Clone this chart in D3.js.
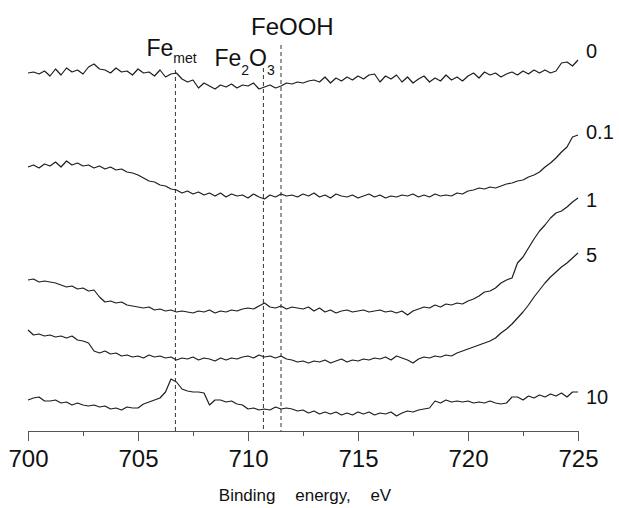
<!DOCTYPE html>
<html>
<head>
<meta charset="utf-8">
<script src="https://cdn.jsdelivr.net/npm/d3@7/dist/d3.min.js"></script>
<style>
  body { margin: 0; background: #fff; }
  svg { display: block; font-family: "Liberation Sans", Arial, Helvetica, sans-serif; }
</style>
</head>
<body>
<div id="chart"></div>
<script>
// binding energy grid, 0.25 eV step
const energies = d3.range(101).map(i => 700 + i * 0.25);

const seriesLabels = ["0", "0.1", "1", "5", "10"];

// intensity (arb. units, stacked) for each spectrum
const int0 = [
    35.8, 35.9, 35.7, 36.0, 35.5, 36.2, 35.6, 36.3, 35.9, 36.1,
    35.7, 36.4, 36.7, 36.2, 36.1, 35.8, 36.3, 35.9, 36.0, 35.6,
    36.2, 35.8, 35.9, 35.5, 36.1, 35.4, 35.7, 35.8, 35.2, 34.9,
    35.1, 34.3, 34.8, 34.5, 34.2, 34.6, 34.4, 34.7, 34.3, 34.6,
    34.5, 34.8, 34.2, 34.4, 34.6, 34.3, 34.5, 34.8, 34.7, 34.9,
    34.8, 35.0, 35.1, 34.9, 35.4, 34.8, 35.3, 35.0, 35.4, 35.1,
    35.5, 35.2, 35.6, 35.7, 34.9, 35.5, 35.2, 35.6, 34.9, 35.4,
    34.8, 35.2, 35.5, 34.9, 35.3, 35.0, 35.6, 35.1, 35.4, 35.0,
    35.5, 35.8, 35.3, 35.9, 35.6, 35.8, 35.4, 35.7, 35.9, 35.6,
    36.0, 35.7, 36.1, 35.8, 36.1, 35.8, 36.0, 36.8, 36.9, 36.5,
    37.1
];
const int01 = [
    26.4, 26.6, 26.3, 26.7, 26.5, 26.9, 26.4, 27.0, 26.6, 26.8,
    26.5, 26.6, 26.3, 26.5, 26.2, 26.4, 26.1, 26.2, 25.9, 25.8,
    25.6, 25.3, 25.0, 24.9, 24.6, 24.5, 24.2, 24.1, 23.8, 24.0,
    23.7, 23.9, 23.6, 23.8, 23.5, 23.8, 23.4, 23.7, 23.5, 23.6,
    23.3, 23.7, 23.4, 23.2, 23.6, 23.4, 23.7, 23.5, 23.6, 23.4,
    23.7, 23.5, 23.8, 23.4, 23.6, 23.3, 23.7, 23.5, 23.4, 23.6,
    23.3, 23.5, 23.7, 23.4, 23.6, 23.3, 23.5, 23.4, 23.6, 23.5,
    23.7, 23.4, 23.6, 23.4, 23.7, 23.5, 23.6, 23.5, 23.8, 23.7,
    24.0, 24.1, 24.3, 24.2, 24.4, 24.3, 24.5, 24.7, 24.8, 25.0,
    25.1, 25.4, 25.6, 25.9, 26.4, 26.8, 27.3, 27.9, 28.4, 29.4,
    29.6
];
const int1 = [
    15.1, 15.2, 14.9, 15.0, 14.9, 14.8, 14.6, 14.4, 14.5, 14.2,
    14.3, 14.0, 14.1, 13.4, 12.9, 13.0, 12.8, 12.9, 12.6, 12.5,
    12.4, 12.3, 12.4, 12.1, 12.2, 12.0, 12.1, 11.9, 12.0, 11.9,
    11.8, 12.0, 11.9, 12.1, 11.8, 12.0, 11.9, 12.1, 12.0, 12.2,
    12.3, 12.2, 12.5, 12.8, 12.4, 12.3, 12.5, 12.2, 12.4, 12.3,
    12.2, 12.4, 12.0, 12.3, 11.9, 12.1, 11.8, 12.0, 12.1, 11.9,
    12.0, 12.1, 11.9, 12.0, 12.1, 11.9, 12.0, 11.8, 12.0, 11.6,
    12.0, 12.2, 12.4, 12.3, 12.6, 12.4, 12.7, 12.6, 12.8, 12.7,
    13.0, 13.2, 13.5, 13.9, 14.0, 14.3, 14.8, 15.1, 15.3, 16.8,
    17.4, 18.3, 19.2, 20.0, 20.6, 21.3, 21.8, 22.0, 22.4, 22.9,
    23.3
];
const int5 = [
    10.1, 9.6, 9.7, 9.5, 9.6, 9.4, 9.5, 9.3, 9.5, 9.1,
    9.0, 8.8, 8.0, 7.8, 8.0, 7.7, 7.8, 7.5, 7.6, 7.4,
    7.5, 7.3, 7.6, 7.4, 7.5, 7.3, 7.4, 7.1, 7.3, 7.2,
    7.4, 7.1, 7.3, 7.2, 7.0, 7.3, 7.1, 7.3, 7.2, 7.4,
    7.5, 7.3, 7.6, 7.4, 7.5, 7.3, 7.5, 7.2, 7.1, 6.9,
    7.0, 6.8, 7.0, 6.9, 7.1, 6.8, 7.0, 7.2, 6.9, 7.1,
    7.0, 7.2, 7.1, 7.3, 7.2, 7.4, 7.1, 7.5, 7.3, 7.1,
    6.8, 7.2, 7.4, 7.3, 7.5, 7.4, 7.6, 7.5, 7.8, 8.0,
    8.2, 8.4, 8.6, 8.8, 9.0, 9.3, 9.8, 10.2, 10.7, 11.3,
    11.9, 12.6, 13.4, 14.1, 14.8, 15.4, 15.9, 16.4, 16.8, 17.3,
    17.8
];
const int10 = [
    3.1, 3.3, 3.4, 3.0, 3.0, 3.1, 2.8, 2.9, 2.6, 2.8,
    2.6, 2.5, 2.6, 2.4, 2.5, 2.2, 2.3, 2.1, 2.4, 2.3,
    2.3, 2.7, 2.9, 3.1, 3.3, 3.9, 5.2, 4.9, 4.2, 4.0,
    3.9, 3.9, 3.8, 2.6, 3.1, 3.1, 2.9, 3.0, 2.7, 2.6,
    2.2, 2.3, 2.1, 2.2, 2.1, 2.4, 2.2, 2.3, 2.2, 2.0,
    2.1, 1.8, 2.0, 1.7, 1.9, 1.7, 1.9, 1.6, 1.8, 1.6,
    1.9, 1.7, 1.9, 1.6, 1.8, 1.7, 1.9, 1.5, 1.8, 2.0,
    1.9, 2.1, 2.2, 2.3, 3.0, 2.8, 3.1, 2.9, 3.0, 2.9,
    3.0, 2.8, 2.9, 2.8, 3.0, 2.8, 2.7, 2.8, 3.4, 3.4,
    3.1, 3.5, 3.3, 3.6, 3.4, 3.7, 3.5, 3.8, 3.4, 3.9,
    3.9
];

const majorTicks = [700, 705, 710, 715, 720, 725];
const minorTicks = [702.5, 707.5, 712.5, 717.5, 722.5];

// reference peak positions, eV
const refEnergies = [706.7, 710.7, 711.5];

const allSeries = [int0, int01, int1, int5, int10];

const width = 619,
    height = 508;

const svg = d3.select("#chart")
    .append("svg")
    .attr("width", width)
    .attr("height", height);

svg.append("rect")
    .attr("width", width)
    .attr("height", height)
    .attr("fill", "#fff");

const x = d3.scaleLinear().domain([700, 725]).range([28, 578]);
const y = d3.scaleLinear().domain([0, 42]).range([431, 11]);

// dashed reference lines (top end sits under each label)
const dashTops = [70, 68, 45];
svg.selectAll(".ref")
    .data(refEnergies)
    .enter()
    .append("line")
    .attr("class", "ref")
    .attr("x1", d => x(d))
    .attr("x2", d => x(d))
    .attr("y1", (d, i) => dashTops[i])
    .attr("y2", y(0))
    .attr("stroke", "#333")
    .attr("stroke-width", 1)
    .attr("stroke-dasharray", "4,3");

// spectra
const line = d3.line()
    .x((d, i) => x(energies[i]))
    .y(d => y(d));

svg.selectAll(".spec")
    .data(allSeries)
    .enter()
    .append("path")
    .attr("class", "spec")
    .attr("d", line)
    .attr("fill", "none")
    .attr("stroke", "#1e1e1e")
    .attr("stroke-width", 1.2)
    .attr("stroke-linejoin", "round");

// series labels at right end
const labelDy = [-2, 4, 9, 9, 12];
svg.selectAll(".slabel")
    .data(seriesLabels)
    .enter()
    .append("text")
    .attr("class", "slabel")
    .attr("x", x(725) + 8)
    .attr("y", (d, i) => y(allSeries[i][allSeries[i].length - 1]) + labelDy[i])
    .attr("font-size", 20)
    .attr("fill", "#111")
    .text(d => d);

// x axis
const axisG = svg.append("g")
    .attr("transform", `translate(0,${y(0)})`)
    .call(d3.axisBottom(x).tickValues(majorTicks).tickSize(10).tickSizeOuter(0));

axisG.select(".domain").attr("stroke", "#555");
axisG.selectAll(".tick line").attr("stroke", "#555");
axisG.selectAll(".tick text")
    .attr("y", 36)
    .attr("dy", 0)
    .attr("font-size", 24)
    .attr("font-family", "Liberation Sans, Arial, sans-serif")
    .attr("fill", "#111");

const minorG = svg.append("g")
    .attr("transform", `translate(0,${y(0)})`)
    .call(d3.axisBottom(x).tickValues(minorTicks).tickSize(5).tickFormat(""));
minorG.select(".domain").remove();
minorG.selectAll(".tick line").attr("stroke", "#555");

svg.append("text")
    .attr("x", (x(700) + x(725)) / 2 + 2)
    .attr("y", 501)
    .attr("text-anchor", "middle")
    .attr("font-size", 17)
    .attr("word-spacing", 15)
    .attr("fill", "#111")
    .text("Binding energy, eV");

// peak annotations
const ann = svg.append("g").attr("fill", "#111");

const feMet = ann.append("text")
    .attr("x", x(refEnergies[0]) - 29)
    .attr("y", 56)
    .attr("font-size", 23);
feMet.append("tspan").text("Fe");
feMet.append("tspan").attr("font-size", 14).attr("dy", 7).text("met");

const fe2o3 = ann.append("text")
    .attr("x", x(refEnergies[1]) - 49)
    .attr("y", 66)
    .attr("font-size", 23);
fe2o3.append("tspan").text("Fe");
fe2o3.append("tspan").attr("font-size", 14).attr("dy", 9).text("2");
fe2o3.append("tspan").attr("dy", -9).text("O");
fe2o3.append("tspan").attr("font-size", 14).attr("dy", 9).text("3");

ann.append("text")
    .attr("x", x(refEnergies[2]) - 30)
    .attr("y", 35)
    .attr("font-size", 24)
    .text("FeOOH");
</script>
</body>
</html>
